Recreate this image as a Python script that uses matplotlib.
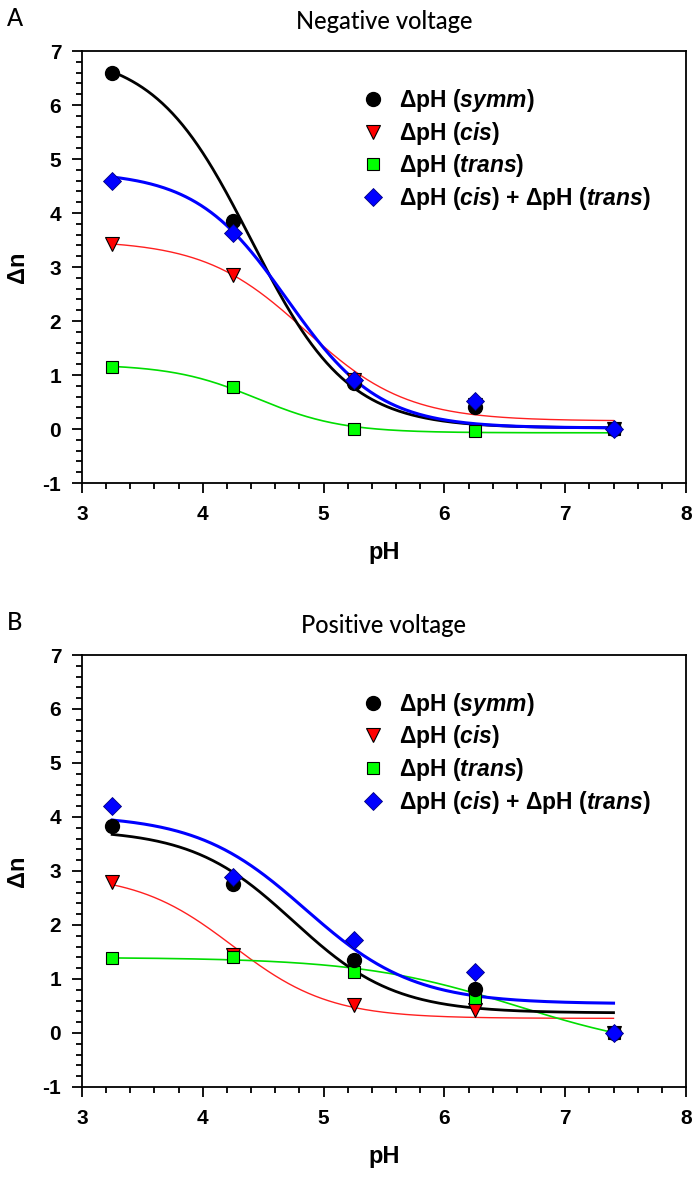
import numpy as np
import matplotlib.pyplot as plt
from matplotlib.ticker import MultipleLocator

plt.rcParams['font.family'] = ['Liberation Sans', 'DejaVu Sans']
plt.rcParams['mathtext.fontset'] = 'custom'
plt.rcParams['mathtext.it'] = 'Liberation Sans:bold:italic'
plt.rcParams['mathtext.rm'] = 'Liberation Sans:bold'
plt.rcParams['axes.unicode_minus'] = False

# measured pH values
ph = [3.25, 4.25, 5.25, 6.25, 7.4]

# panel A - negative voltage
neg_symm = [6.6, 3.85, 0.85, 0.4, 0.0]
neg_cis = [3.42, 2.85, 0.9, 0.45, 0.0]
neg_trans = [1.15, 0.77, 0.0, -0.04, 0.0]
neg_sum = [4.6, 3.64, 0.9, 0.52, 0.0]

# panel B - positive voltage
pos_symm = [3.83, 2.76, 1.35, 0.82, 0.0]
pos_cis = [2.8, 1.45, 0.52, 0.43, 0.0]
pos_trans = [1.39, 1.41, 1.13, 0.64, 0.0]
pos_sum = [4.2, 2.89, 1.72, 1.13, 0.0]

# sigmoid fit parameters: y0, a, x0, b
neg_fits = {
    'symm': [0.02, 6.97, 4.4, 0.4],
    'cis': [0.15, 3.35, 4.85, 0.42],
    'trans': [-0.07, 1.27, 4.45, 0.35],
    'sum': [0.02, 4.75, 4.7, 0.38],
}
pos_fits = {
    'symm': [0.37, 3.4, 4.75, 0.42],
    'cis': [0.27, 2.68, 4.25, 0.4],
    'trans': [-0.4, 1.8, 6.6, 0.65],
    'sum': [0.54, 3.5, 4.85, 0.45],
}

labels = ['ΔpH ($symm$)', 'ΔpH ($cis$)', 'ΔpH ($trans$)',
          'ΔpH ($cis$) + ΔpH ($trans$)']


def sigmoid(x, p):
    y0, a, x0, b = p
    return y0 + a / (1 + np.exp((x - x0) / b))


def draw_panel(ax, symm, cis, trans, total, fits, title, letter):
    xs = np.linspace(ph[0], ph[-1], 300)
    ax.plot(xs, sigmoid(xs, fits['cis']), color='#ff2020', lw=1.0, zorder=2)
    ax.plot(xs, sigmoid(xs, fits['trans']), color='#00dd00', lw=1.2, zorder=2)
    ax.plot(xs, sigmoid(xs, fits['symm']), color='black', lw=2.0, zorder=3)
    ax.plot(xs, sigmoid(xs, fits['sum']), color='#0000ff', lw=2.2, zorder=3)

    ms = 10
    h1, = ax.plot(ph, symm, 'o', color='black', ms=ms, zorder=5, label=labels[0])
    h2, = ax.plot(ph, cis, 'v', color='#ff0000', mec='black', mew=0.8, ms=ms,
                  zorder=4, label=labels[1])
    h3, = ax.plot(ph, trans, 's', color='#00ff00', mec='black', mew=0.8, ms=ms - 1,
                  zorder=4, label=labels[2])
    h4, = ax.plot(ph, total, 'D', color='#0000ff', mec='#000080', mew=0.6,
                  ms=ms - 1, zorder=6, label=labels[3])

    ax.set_xlim(3, 8)
    ax.set_ylim(-1, 7)
    ax.xaxis.set_major_locator(MultipleLocator(1))
    ax.xaxis.set_minor_locator(MultipleLocator(0.2))
    ax.yaxis.set_major_locator(MultipleLocator(1))
    ax.yaxis.set_minor_locator(MultipleLocator(0.2))
    ax.tick_params(which='both', direction='out', width=1.3, top=False, right=False)
    ax.tick_params(which='major', length=7, labelsize=15)
    ax.tick_params(axis='x', which='major', pad=9)
    ax.tick_params(axis='y', which='major', pad=8)
    ax.tick_params(which='minor', length=4)
    for t in ax.get_xticklabels() + ax.get_yticklabels():
        t.set_fontweight('bold')
    for s in ax.spines.values():
        s.set_linewidth(1.3)

    ax.set_xlabel('pH', fontsize=17, fontweight='bold', labelpad=12)
    ax.set_ylabel('Δn', fontsize=17, fontweight='bold', labelpad=10)
    ax.set_title(title, fontsize=17, family='Lato', fontweight='medium', pad=16)
    ax.text(-0.125, 1.075, letter, transform=ax.transAxes, fontsize=17,
            family='Lato', fontweight='medium', ha='left', va='center')

    ax.legend(handles=[h1, h2, h3, h4], loc='upper left',
              bbox_to_anchor=(0.425, 0.965), frameon=False,
              prop={'weight': 'bold', 'size': 16.5},
              handletextpad=0.55, labelspacing=0.25, handlelength=1.2)


fig = plt.figure(figsize=(6.93, 11.77), dpi=100)
ax1 = fig.add_axes([0.1183, 0.5896, 0.8716, 0.367])
ax2 = fig.add_axes([0.1183, 0.0765, 0.8716, 0.367])

draw_panel(ax1, neg_symm, neg_cis, neg_trans, neg_sum, neg_fits,
           'Negative voltage', 'A')
draw_panel(ax2, pos_symm, pos_cis, pos_trans, pos_sum, pos_fits,
           'Positive voltage', 'B')

plt.savefig('out.png', dpi=100)
